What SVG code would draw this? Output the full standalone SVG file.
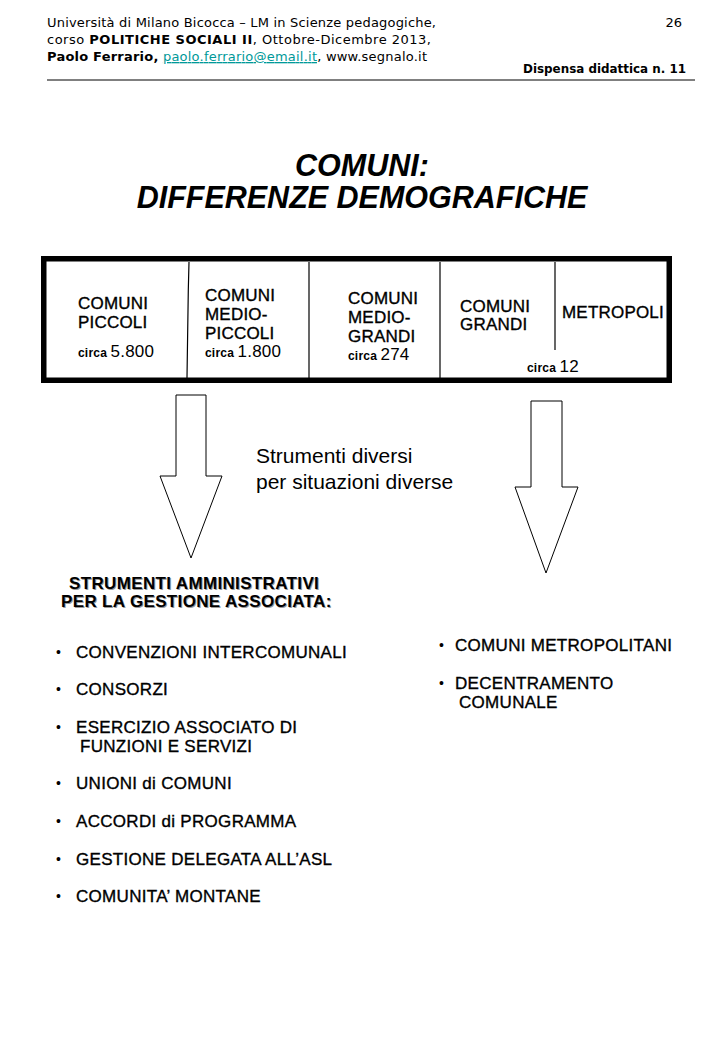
<svg xmlns="http://www.w3.org/2000/svg" width="720" height="1040" viewBox="0 0 720 1040">
<style>
.hd{font-family:"DejaVu Sans",Verdana,sans-serif;font-size:13px;fill:#000}
.b{font-weight:bold}
.ttl{font-family:"Liberation Sans",Arial,sans-serif;font-size:30.5px;font-weight:bold;font-style:italic;text-anchor:middle;fill:#000}
.cell{font-family:"Liberation Sans",Arial,sans-serif;font-size:17px;fill:#000;stroke:#000;stroke-width:0.35;letter-spacing:0.2px}
.sm{font-size:12px;font-weight:bold;stroke-width:0}
.num{font-size:17px;font-weight:normal}
.reg{font-family:"Liberation Sans",Arial,sans-serif;font-size:21px;fill:#000}
.li{font-family:"Liberation Sans",Arial,sans-serif;font-size:17px;fill:#000;stroke:#000;stroke-width:0.35;letter-spacing:0.3px}
.hl{font-family:"Liberation Sans",Arial,sans-serif;font-size:17px;font-weight:bold;fill:#000;letter-spacing:0.35px}
.sh{fill:#999}
.bul{font-family:"Liberation Sans",Arial,sans-serif;font-size:14px;fill:#000}
.arrow{fill:#fff;stroke:#000;stroke-width:1}
.div{stroke:#000;stroke-width:1.2;fill:none}
</style>
<rect width="720" height="1040" fill="#fff"/>
<g id="header">
<text class="hd" x="47" y="27" textLength="389" lengthAdjust="spacing">Università di Milano Bicocca – LM in Scienze pedagogiche,</text>
<text class="hd" x="47" y="44" textLength="384" lengthAdjust="spacing">corso <tspan class="b">POLITICHE SOCIALI II</tspan>, Ottobre-Dicembre 2013,</text>
<text class="hd" x="47" y="61" textLength="380" lengthAdjust="spacing"><tspan class="b">Paolo Ferrario,</tspan> <tspan fill="#009999" text-decoration="underline">paolo.ferrario@email.it</tspan>, www.segnalo.it</text>
<text class="hd" x="682" y="27" text-anchor="end">26</text>
<text class="hd b" x="523" y="73" textLength="163" lengthAdjust="spacingAndGlyphs">Dispensa didattica n. 11</text>
<line x1="47" y1="80" x2="695" y2="80" stroke="#000" stroke-width="1"/>
</g>
<g id="title">
<text class="ttl" x="362" y="176">COMUNI:</text>
<text class="ttl" x="362" y="208">DIFFERENZE DEMOGRAFICHE</text>
</g>
<g id="table">
<rect x="43.75" y="258.75" width="625.5" height="121.5" fill="#fff" stroke="#000" stroke-width="5.5"/>
<polyline class="div" points="189,262 188.3,290 187,378"/>
<line class="div" x1="309" y1="262" x2="309" y2="378"/>
<line class="div" x1="440" y1="262" x2="440" y2="378"/>
<line class="div" x1="555" y1="262" x2="555" y2="350"/>
</g>
<g id="cell-piccoli">
<text class="cell" x="78" y="309">COMUNI</text>
<text class="cell" x="78" y="328">PICCOLI</text>
<text class="cell sm" x="78" y="357">circa <tspan class="num">5.800</tspan></text>
</g>
<g id="cell-medio-piccoli">
<text class="cell" x="205" y="301">COMUNI</text>
<text class="cell" x="205" y="320">MEDIO-</text>
<text class="cell" x="205" y="339">PICCOLI</text>
<text class="cell sm" x="205" y="357">circa <tspan class="num">1.800</tspan></text>
</g>
<g id="cell-medio-grandi">
<text class="cell" x="348" y="304">COMUNI</text>
<text class="cell" x="348" y="323">MEDIO-</text>
<text class="cell" x="348" y="342">GRANDI</text>
<text class="cell sm" x="348" y="360">circa <tspan class="num">274</tspan></text>
</g>
<g id="cell-grandi">
<text class="cell" x="460" y="312">COMUNI</text>
<text class="cell" x="460" y="330">GRANDI</text>
<text class="cell sm" x="527" y="372">circa <tspan class="num">12</tspan></text>
</g>
<g id="cell-metropoli">
<text class="cell" x="562" y="318">METROPOLI</text>
</g>
<g id="connectors">
<polygon class="arrow" points="176,395 206,395 206,476 222,476 191,558 160,476 176,476"/>
<polygon class="arrow" points="531,401 562,401 562,487 578,487 546,573 515,487 531,487"/>
</g>
<g id="note">
<text class="reg" x="256" y="463">Strumenti diversi</text>
<text class="reg" x="256" y="489">per situazioni diverse</text>
</g>
<g id="left-list">
<text class="hl sh" x="70" y="590">STRUMENTI AMMINISTRATIVI</text>
<text class="hl sh" x="62" y="608">PER LA GESTIONE ASSOCIATA:</text>
<text class="hl" x="69" y="589">STRUMENTI AMMINISTRATIVI</text>
<text class="hl" x="61" y="607">PER LA GESTIONE ASSOCIATA:</text>
<text class="bul" x="56" y="657">•</text><text class="li" x="76" y="658">CONVENZIONI INTERCOMUNALI</text>
<text class="bul" x="56" y="694">•</text><text class="li" x="76" y="695">CONSORZI</text>
<text class="bul" x="56" y="732">•</text><text class="li" x="76" y="733">ESERCIZIO ASSOCIATO DI</text>
<text class="li" x="80" y="752">FUNZIONI E SERVIZI</text>
<text class="bul" x="56" y="788">•</text><text class="li" x="76" y="789">UNIONI di COMUNI</text>
<text class="bul" x="56" y="826">•</text><text class="li" x="76" y="827">ACCORDI di PROGRAMMA</text>
<text class="bul" x="56" y="864">•</text><text class="li" x="76" y="865">GESTIONE DELEGATA ALL’ASL</text>
<text class="bul" x="56" y="901">•</text><text class="li" x="76" y="902">COMUNITA’ MONTANE</text>
</g>
<g id="right-list">
<text class="bul" x="439" y="650">•</text><text class="li" x="455" y="651">COMUNI METROPOLITANI</text>
<text class="bul" x="439" y="688">•</text><text class="li" x="455" y="689">DECENTRAMENTO</text>
<text class="li" x="459" y="708">COMUNALE</text>
</g>
</svg>
